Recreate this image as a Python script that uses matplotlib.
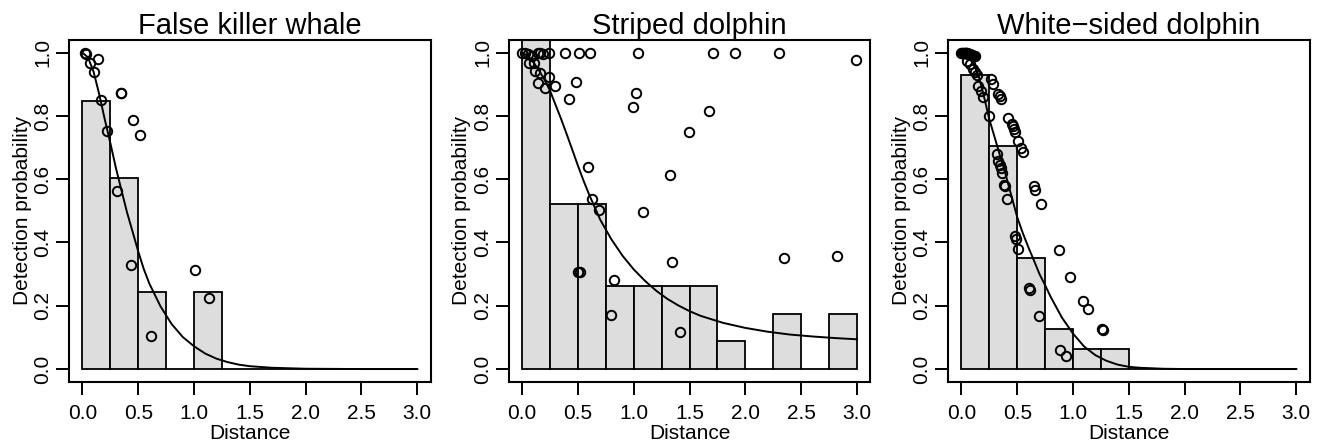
import numpy as np
import matplotlib
matplotlib.use("Agg")
import matplotlib.pyplot as plt

plt.rcParams['font.family'] = ['Liberation Sans', 'DejaVu Sans']

# histogram bins (shared) and bar heights per species
bin_edges = [0.0, 0.25, 0.5, 0.75, 1.0, 1.25, 1.5, 1.75, 2.0, 2.25, 2.5, 2.75, 3.0]
fkw_bars = [0.847, 0.604, 0.243, 0.0, 0.243, 0.0, 0.0, 0.0, 0.0, 0.0, 0.0, 0.0]
sd_bars = [1.2, 0.522, 0.522, 0.262, 0.262, 0.262, 0.262, 0.0876, 0.0, 0.174, 0.0, 0.174]
wsd_bars = [0.928, 0.705, 0.352, 0.128, 0.063, 0.063, 0.0, 0.0, 0.0, 0.0, 0.0, 0.0]

# fitted detection functions
fkw_curve_x = [0.0, 0.05, 0.1, 0.15, 0.2, 0.25, 0.3, 0.35, 0.4, 0.45, 0.5, 0.55, 0.6,
               0.7, 0.8, 0.9, 1.0, 1.1, 1.2, 1.3, 1.4, 1.5, 1.7, 2.0, 2.5, 3.0]
fkw_curve_y = [1.0, 0.985, 0.94, 0.87, 0.79, 0.715, 0.636, 0.565, 0.495, 0.434, 0.372,
               0.316, 0.27, 0.198, 0.142, 0.101, 0.072, 0.049, 0.033, 0.022, 0.014,
               0.009, 0.004, 0.001, 0.0, 0.0]

sd_curve_x = [0.0, 0.05, 0.1, 0.15, 0.2, 0.25, 0.3, 0.35, 0.4, 0.45, 0.5, 0.55, 0.6,
              0.65, 0.7, 0.8, 0.9, 1.0, 1.1, 1.2, 1.3, 1.4, 1.5, 1.6, 1.8, 2.0, 2.2,
              2.4, 2.6, 2.8, 3.0]
sd_curve_y = [1.0, 0.99, 0.97, 0.945, 0.915, 0.88, 0.835, 0.79, 0.742, 0.693, 0.643,
              0.596, 0.552, 0.512, 0.472, 0.41, 0.358, 0.315, 0.279, 0.248, 0.222,
              0.201, 0.183, 0.168, 0.146, 0.13, 0.118, 0.109, 0.103, 0.098, 0.094]

wsd_curve_x = [0.0, 0.05, 0.1, 0.15, 0.2, 0.25, 0.3, 0.35, 0.4, 0.45, 0.5, 0.55, 0.6,
               0.65, 0.7, 0.75, 0.8, 0.9, 1.0, 1.1, 1.2, 1.3, 1.4, 1.5, 1.6, 1.8,
               2.0, 2.5, 3.0]
wsd_curve_y = [1.0, 0.99, 0.97, 0.932, 0.865, 0.79, 0.73, 0.67, 0.61, 0.545, 0.48,
               0.43, 0.385, 0.343, 0.30, 0.265, 0.228, 0.163, 0.112, 0.071, 0.044,
               0.026, 0.014, 0.007, 0.004, 0.001, 0.0, 0.0, 0.0]

# observed points
fkw_x = [0.024, 0.03, 0.072, 0.143, 0.106, 0.164, 0.218, 0.344, 0.35, 0.457, 0.517,
         0.314, 0.433, 0.613, 1.01, 1.138]
fkw_y = [0.998, 0.995, 0.967, 0.981, 0.94, 0.849, 0.752, 0.873, 0.871, 0.786, 0.739,
         0.562, 0.33, 0.106, 0.312, 0.225]

sd_x = [0.0, 0.027, 0.05, 0.066, 0.09, 0.11, 0.146, 0.16, 0.19, 0.245, 0.12, 0.164,
        0.14, 0.206, 0.245, 0.296, 0.385, 0.508, 0.604, 0.484, 0.421, 1.04, 1.022,
        0.998, 1.709, 1.909, 2.298, 2.994, 1.676, 1.494, 0.594, 1.326, 0.625, 0.69,
        1.082, 0.503, 0.515, 0.819, 0.795, 1.342, 1.416, 2.342, 2.82]
sd_y = [1.0, 1.0, 0.996, 0.968, 0.99, 0.968, 1.0, 1.0, 0.995, 1.0, 0.942, 0.937,
        0.903, 0.889, 0.924, 0.896, 1.0, 1.0, 1.0, 0.907, 0.855, 1.0, 0.873, 0.829,
        1.0, 1.0, 1.0, 0.977, 0.815, 0.749, 0.638, 0.612, 0.539, 0.504, 0.496, 0.306,
        0.306, 0.28, 0.172, 0.339, 0.117, 0.351, 0.357]

wsd_x = [0.0, 0.008, 0.015, 0.022, 0.03, 0.037, 0.045, 0.052, 0.06, 0.068, 0.075,
         0.083, 0.09, 0.098, 0.105, 0.112, 0.118, 0.048, 0.078, 0.108, 0.123, 0.138,
         0.153, 0.177, 0.19, 0.243, 0.268, 0.287, 0.332, 0.342, 0.352, 0.416, 0.452,
         0.462, 0.472, 0.482, 0.51, 0.535, 0.55, 0.316, 0.33, 0.342, 0.355, 0.362,
         0.379, 0.388, 0.409, 0.48, 0.49, 0.51, 0.648, 0.663, 0.714, 0.871, 0.976,
         0.604, 0.616, 0.699, 1.088, 1.13, 1.262, 1.266, 0.88, 0.934]
wsd_y = [1.0, 1.0, 1.0, 1.0, 0.999, 0.999, 0.998, 0.998, 0.997, 0.996, 0.995,
         0.994, 0.993, 0.992, 0.99, 0.99, 0.988, 0.975, 0.964, 0.948, 0.938, 0.93,
         0.895, 0.88, 0.86, 0.80, 0.916, 0.901, 0.869, 0.863, 0.855, 0.795, 0.774,
         0.767, 0.758, 0.748, 0.722, 0.70, 0.685, 0.679, 0.658, 0.645, 0.635, 0.62,
         0.583, 0.578, 0.538, 0.42, 0.411, 0.38, 0.578, 0.565, 0.523, 0.375, 0.29,
         0.256, 0.249, 0.167, 0.214, 0.19, 0.126, 0.123, 0.061, 0.04]

panels = [
    ("False killer whale", fkw_bars, fkw_curve_x, fkw_curve_y, fkw_x, fkw_y),
    ("Striped dolphin", sd_bars, sd_curve_x, sd_curve_y, sd_x, sd_y),
    ("White\u2212sided dolphin", wsd_bars, wsd_curve_x, wsd_curve_y, wsd_x, wsd_y),
]

fig = plt.figure(figsize=(13.24, 4.44), dpi=100)
lefts = [0.0521, 0.3842, 0.716]

for left, (title, bars, cx, cy, px, py) in zip(lefts, panels):
    ax = fig.add_axes([left, 0.1403, 0.2732, 0.7696])
    ax.bar(bin_edges[:-1], bars, width=0.25, align='edge', color='#dddddd',
           edgecolor='black', linewidth=1.3, zorder=1)
    ax.plot(cx, cy, color='black', linewidth=1.4, zorder=2)
    ax.plot(px, py, linestyle='none', marker='o', ms=6.8, mfc='none',
            mec='black', mew=1.4, zorder=3)

    ax.set_xlim(-0.12, 3.12)
    ax.set_ylim(-0.04, 1.04)
    ax.set_xticks([0, 0.5, 1.0, 1.5, 2.0, 2.5, 3.0])
    ax.set_xticklabels(["0.0", "0.5", "1.0", "1.5", "2.0", "2.5", "3.0"])
    ax.set_yticks([0, 0.2, 0.4, 0.6, 0.8, 1.0])
    ax.set_yticklabels(["0.0", "0.2", "0.4", "0.6", "0.8", "1.0"])
    ax.tick_params(axis='both', direction='out', length=9.3, width=1.4,
                   labelsize=15, color='black')
    ax.tick_params(axis='x', pad=7)
    ax.tick_params(axis='y', pad=2.5, labelrotation=90)
    for lab in ax.get_yticklabels():
        lab.set_va('center')
    for sp in ax.spines.values():
        sp.set_linewidth(1.5)

    ax.set_title(title, fontsize=21, pad=4.1)
    ax.set_xlabel("Distance", fontsize=15, labelpad=0.5)
    ax.set_ylabel("Detection probability", fontsize=15, labelpad=1.5)

fig.savefig("out.png", dpi=100)
